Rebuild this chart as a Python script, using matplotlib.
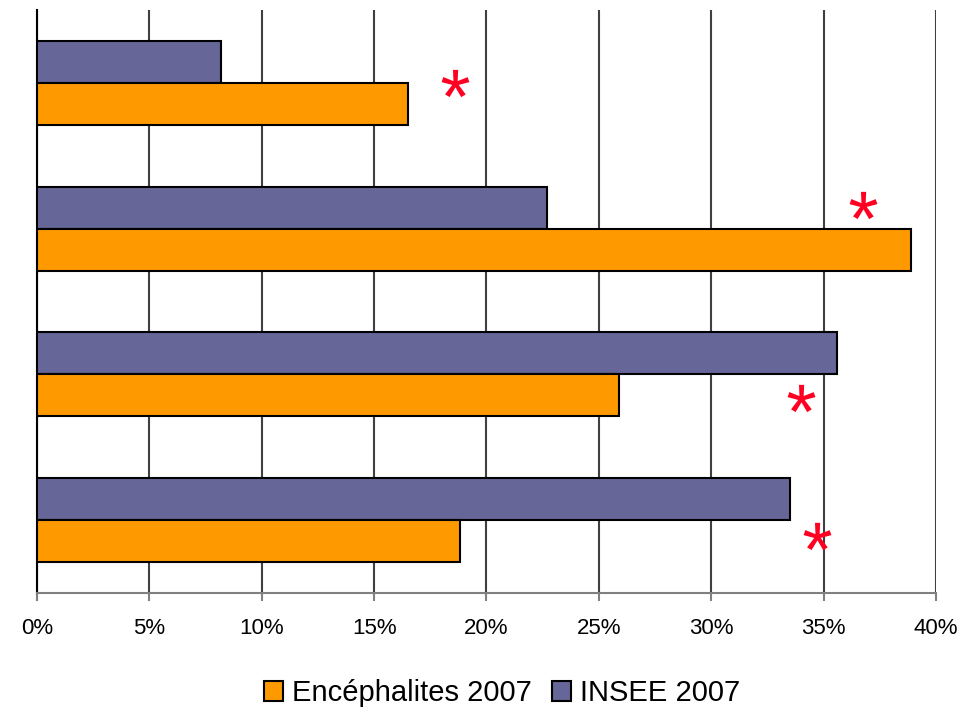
import numpy as np
import matplotlib.pyplot as plt
from matplotlib.textpath import TextPath
from matplotlib.font_manager import FontProperties
from matplotlib.path import Path

plt.rcParams['font.family'] = ['Liberation Sans', 'DejaVu Sans']

# values (percent), top group first
encephalites = [16.5, 38.9, 25.9, 18.8]
insee = [8.2, 22.7, 35.6, 33.5]

# red significance stars: x in percent, y offset from group centre
star_x = [18.6, 36.75, 34.0, 34.7]
star_dy = [0.0, -0.165, 0.165, 0.11]

fig = plt.figure(figsize=(9.79, 7.11), dpi=100)
ax = fig.add_axes([37 / 979, 118 / 711, 899 / 979, 583 / 711])

y = np.arange(len(insee))
h = 0.288
ax.barh(y - h / 2, insee, height=h, color='#666699', edgecolor='black',
        linewidth=1.5, label='INSEE 2007', zorder=3)
ax.barh(y + h / 2, encephalites, height=h, color='#FF9900', edgecolor='black',
        linewidth=1.5, label='Encéphalites 2007', zorder=3)

# asterisk glyph as a centred marker (ignore closepoly points)
tp = TextPath((0, 0), '*', prop=FontProperties(family='Liberation Sans'))
verts = tp.vertices.copy()
real = verts[tp.codes != Path.CLOSEPOLY]
verts -= (real.min(axis=0) + real.max(axis=0)) / 2
verts[tp.codes == Path.CLOSEPOLY] = 0
star = Path(verts, tp.codes)

ax.scatter(star_x, y + np.array(star_dy), marker=star, s=20 ** 2,
           color='#FF0022', linewidths=0, zorder=4)

ax.set_xlim(0, 40)
ax.set_ylim(3.5, -0.5)
ax.set_xticks(np.arange(0, 41, 5))
ax.set_xticklabels([f'{v}%' for v in range(0, 41, 5)], fontsize=16)
ax.set_yticks([])
ax.grid(axis='x', color='#404040', linewidth=1.5, zorder=0)
ax.tick_params(axis='x', length=6, width=1.5, color='#808080', pad=12)

for s in ['top', 'right']:
    ax.spines[s].set_visible(False)
ax.spines['bottom'].set_color('#808080')
ax.spines['bottom'].set_linewidth(1.5)
ax.spines['left'].set_color('black')
ax.spines['left'].set_linewidth(1.5)

handles, labels = ax.get_legend_handles_labels()
fig.legend(handles[::-1], labels[::-1], loc='center', bbox_to_anchor=(0.513, 0.025),
           ncol=2, frameon=False, fontsize=21, handlelength=0.65, handleheight=0.65,
           handletextpad=0.3, columnspacing=0.7)

fig.savefig('out.png', dpi=100)
